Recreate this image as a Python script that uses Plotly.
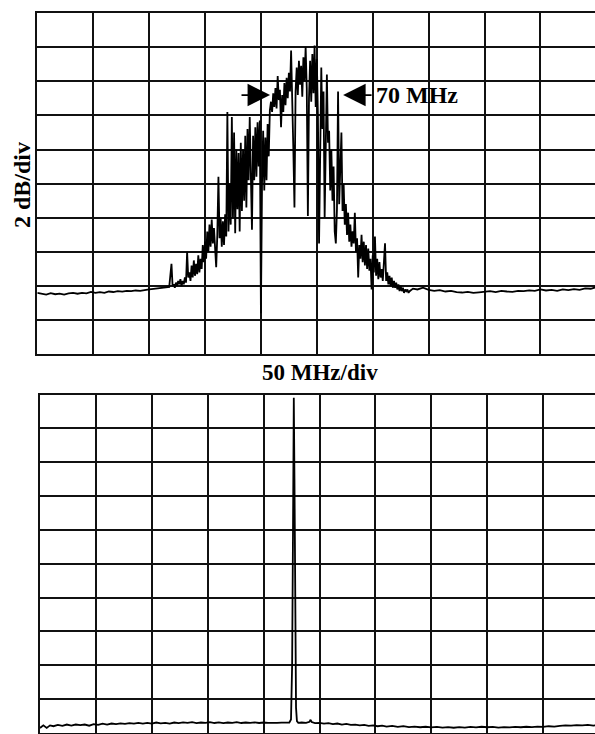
import plotly.graph_objects as go

# ---------------- Top panel: broadened spectrum (50 MHz/div, 2 dB/div) ----------------
# frequency in MHz from left edge of the screen, level in dB above bottom graticule line
left_base_freq = [0, 4, 8, 12, 16, 20, 24, 28, 32, 36, 40, 44, 48, 52, 56, 60, 64, 68, 72,
                  76, 80, 84, 88, 92, 96, 100, 104, 108, 112, 116, 118]
left_base_level = [3.6, 3.55, 3.5, 3.58, 3.52, 3.56, 3.5, 3.57, 3.6, 3.55, 3.6, 3.57, 3.66,
                   3.6, 3.64, 3.6, 3.68, 3.65, 3.7, 3.67, 3.72, 3.7, 3.74, 3.72, 3.78, 3.8,
                   3.83, 3.86, 3.9, 3.92, 3.95]

# densely sampled part of the sweep, 1 MHz per point starting at 120 MHz
dense_start = 120
dense_level = [
    5.3, 4.0, 4.1, 3.9, 4.2, 4.0, 4.3, 4.1, 4.4, 4.0,       # 120-129
    4.3, 4.1, 4.5, 4.2, 6.0, 4.5, 4.8, 4.3, 5.2, 4.5,       # 130-139
    5.5, 4.6, 5.3, 4.7, 5.8, 4.8, 5.6, 5.0, 6.4, 5.4,       # 140-149
    6.6, 5.6, 7.2, 6.0, 7.6, 6.3, 7.9, 6.5, 7.4, 6.1,       # 150-159
    5.1, 7.0, 10.4, 6.8, 8.0, 6.3, 7.8, 6.4, 8.2, 6.9,      # 160-169
    14.2, 7.2, 10.0, 7.6, 13.9, 8.0, 13.0, 7.1, 12.0, 8.5,  # 170-179
    11.8, 7.2, 12.4, 8.4, 12.0, 9.0, 12.8, 8.6, 13.2, 10.2, # 180-189
    13.9, 10.5, 7.3, 12.8, 10.2, 13.3, 10.4, 13.6, 11.0, 13.7,  # 190-199
    2.4, 10.0, 13.1, 9.6, 12.7, 10.2, 13.5, 11.6, 14.3, 14.8,   # 200-209
    14.2, 15.3, 14.5, 15.6, 14.4, 16.3, 14.9, 15.5, 13.3, 15.2, # 210-219
    14.2, 15.9, 14.6, 16.2, 15.0, 16.5, 15.4, 17.8, 15.6, 12.0, # 220-229
    8.6, 15.4, 16.8, 15.2, 17.2, 15.8, 16.9, 15.1, 17.4, 16.0,  # 230-239
    18.0, 15.6, 8.1, 15.0, 17.2, 14.8, 17.6, 15.3, 18.1, 14.5,  # 240-249
    17.3, 13.9, 6.5, 14.0, 16.8, 13.2, 15.4, 8.0, 13.5, 16.4,   # 250-259
    12.4, 13.1, 9.6, 12.0, 9.0, 11.0, 7.2, 6.5, 8.5, 15.4,      # 260-269
    8.8, 10.5, 13.0, 8.4, 10.0, 7.6, 8.8, 7.0, 8.3, 6.6,        # 270-279
    7.6, 6.3, 7.2, 6.5, 8.3, 6.0, 6.8, 4.5, 6.4, 5.6,           # 280-289
    7.0, 5.4, 6.6, 5.2, 6.4, 5.0, 6.2, 4.9, 5.6, 3.8,           # 290-299
    5.8, 4.8, 6.9, 4.6, 5.6, 4.4, 5.4, 4.5, 5.0, 4.3,           # 300-309
    5.2, 6.5, 4.3, 4.8, 4.1, 4.6, 4.0, 4.5, 3.9, 4.3,           # 310-319
    3.9, 4.2, 3.8, 4.1, 3.7, 4.0, 3.7, 3.9, 3.6, 3.8,           # 320-329
    3.7, 3.8, 3.6, 3.7,                                         # 330-333
]
dense_freq = list(range(dense_start, dense_start + len(dense_level)))

right_base_freq = [336, 340, 345, 350, 355, 360, 365, 370, 375, 380, 385, 390, 395, 400,
                   405, 410, 415, 420, 425, 430, 435, 440, 445, 450, 455, 460, 465, 470,
                   475, 480, 485, 490, 495, 499]
right_base_level = [3.85, 3.8, 3.9, 3.78, 3.72, 3.76, 3.68, 3.72, 3.64, 3.62, 3.66, 3.6,
                    3.63, 3.66, 3.7, 3.64, 3.72, 3.68, 3.66, 3.72, 3.7, 3.75, 3.72, 3.8,
                    3.74, 3.78, 3.72, 3.8, 3.76, 3.82, 3.78, 3.86, 3.84, 3.92]

top_freq = left_base_freq + dense_freq + right_base_freq
top_level = left_base_level + dense_level + right_base_level

# ---------------- Bottom panel: narrow single line ----------------
bot_freq = [0, 3, 6, 9, 12, 16, 20, 24, 28, 32, 36, 40, 44, 48, 52, 56, 60, 64, 68, 72, 76,
            80, 84, 88, 92, 96, 100, 104, 108, 112, 116, 120, 124, 128, 132, 136, 140, 144,
            148, 152, 156, 160, 164, 168, 172, 176, 180, 184, 188, 192, 196, 200, 204, 208,
            212, 216, 220, 223, 224.5, 225.5, 226.3, 227.0, 227.6, 228.3, 229.0, 229.8, 231,
            234, 238, 241, 242, 243, 246, 250, 254, 258, 262, 266, 270, 274, 278, 282, 286,
            290, 294, 298, 302, 306, 310, 315, 320, 325, 330, 335, 340, 345, 350, 355, 360,
            365, 370, 375, 380, 385, 390, 395, 400, 405, 410, 415, 420, 425, 430, 435, 440,
            445, 450, 455, 460, 465, 470, 475, 480, 485, 490, 495, 497]
bot_level = [0.3, 0.45, 0.3, 0.45, 0.4, 0.48, 0.42, 0.5, 0.44, 0.5, 0.46, 0.5, 0.43, 0.52,
             0.48, 0.55, 0.5, 0.56, 0.52, 0.57, 0.54, 0.58, 0.55, 0.6, 0.56, 0.6, 0.55, 0.62,
             0.57, 0.6, 0.56, 0.62, 0.58, 0.63, 0.6, 0.64, 0.58, 0.62, 0.6, 0.64, 0.59, 0.63,
             0.58, 0.62, 0.6, 0.64, 0.59, 0.62, 0.6, 0.63, 0.59, 0.62, 0.6, 0.62, 0.6, 0.61,
             0.6, 0.62, 0.8, 4.0, 12.0, 19.8, 15.0, 6.0, 1.5, 0.7, 0.6, 0.62, 0.6, 0.66, 0.78,
             0.65, 0.58, 0.6, 0.55, 0.58, 0.52, 0.56, 0.5, 0.54, 0.48, 0.5, 0.45, 0.48, 0.42,
             0.45, 0.4, 0.44, 0.38, 0.42, 0.36, 0.4, 0.35, 0.38, 0.34, 0.37, 0.33, 0.36, 0.32,
             0.35, 0.31, 0.35, 0.32, 0.36, 0.33, 0.37, 0.34, 0.36, 0.32, 0.35, 0.33, 0.36,
             0.34, 0.37, 0.35, 0.38, 0.36, 0.4, 0.38, 0.42, 0.45, 0.43, 0.47, 0.45, 0.48,
             0.44, 0.46]

# annotation values
bw_left_tip, bw_right_tip = 208.2, 273.5     # MHz, ends of the 70 MHz marker
bw_left_tail, bw_right_tail = 181.3, 300.3
bw_level = 15.19
bw_label = "70 MHz"

W, H = 595, 734
FONT = "Liberation Serif"

fig = go.Figure()
fig.add_trace(go.Scatter(x=top_freq, y=top_level, mode="lines",
                         line=dict(color="black", width=1.8), xaxis="x", yaxis="y",
                         hoverinfo="skip"))
fig.add_trace(go.Scatter(x=bot_freq, y=bot_level, mode="lines",
                         line=dict(color="black", width=1.8), xaxis="x2", yaxis="y2",
                         hoverinfo="skip"))

ax_common = dict(showgrid=True, gridcolor="#111111", gridwidth=1.8, showline=True,
                 linecolor="#111111", linewidth=1.8, zeroline=False, showticklabels=False,
                 ticks="", fixedrange=True)

top_dom = [(H - 354.3) / H, (H - 13) / H]
bot_dom = [(H - 733) / H, (H - 394.5) / H]

fig.update_layout(
    width=W, height=H, margin=dict(l=0, r=0, t=0, b=0),
    paper_bgcolor="white", plot_bgcolor="white", showlegend=False,
    xaxis=dict(domain=[37.3 / W, 1], range=[0, 498.8], tick0=0, dtick=50, mirror=True,
               anchor="y", **ax_common),
    yaxis=dict(domain=top_dom, range=[0, 20], tick0=0, dtick=2, mirror=False, anchor="x",
               **ax_common),
    xaxis2=dict(domain=[40 / W, 1], range=[0, 496.4], tick0=0, dtick=50, mirror=True,
                anchor="y2", **ax_common),
    yaxis2=dict(domain=bot_dom, range=[0, 20], tick0=0, dtick=2, mirror=False, anchor="x2",
                **ax_common),
    font=dict(family=FONT, color="black", size=23),
)

fig.add_annotation(text="<b>2 dB/div</b>", xref="paper", yref="paper", x=22 / W,
                   y=(H - 185) / H, textangle=-90, showarrow=False,
                   xanchor="center", yanchor="middle", font=dict(family=FONT, size=24))
fig.add_annotation(text="<b>50 MHz/div</b>", xref="paper", yref="paper", x=319.5 / W,
                   y=(H - 372.5) / H, showarrow=False, xanchor="center", yanchor="middle",
                   font=dict(family=FONT, size=23))
fig.add_annotation(text="<b>" + bw_label + "</b>", xref="x", yref="y", x=301.5, y=bw_level,
                   showarrow=False, xanchor="left", yanchor="middle",
                   font=dict(family=FONT, size=24))
for tip, tail in [(bw_left_tip, bw_left_tail), (bw_right_tip, bw_right_tail)]:
    fig.add_annotation(text="", xref="x", yref="y", x=tip, y=bw_level,
                       axref="x", ayref="y", ax=tail, ay=bw_level, showarrow=True,
                       arrowhead=2, arrowsize=2.5, arrowwidth=1.8, arrowcolor="black")

fig.write_html("out.html", config={"displayModeBar": False},
               post_script="document.body.style.margin='0';document.body.style.padding='0';")
